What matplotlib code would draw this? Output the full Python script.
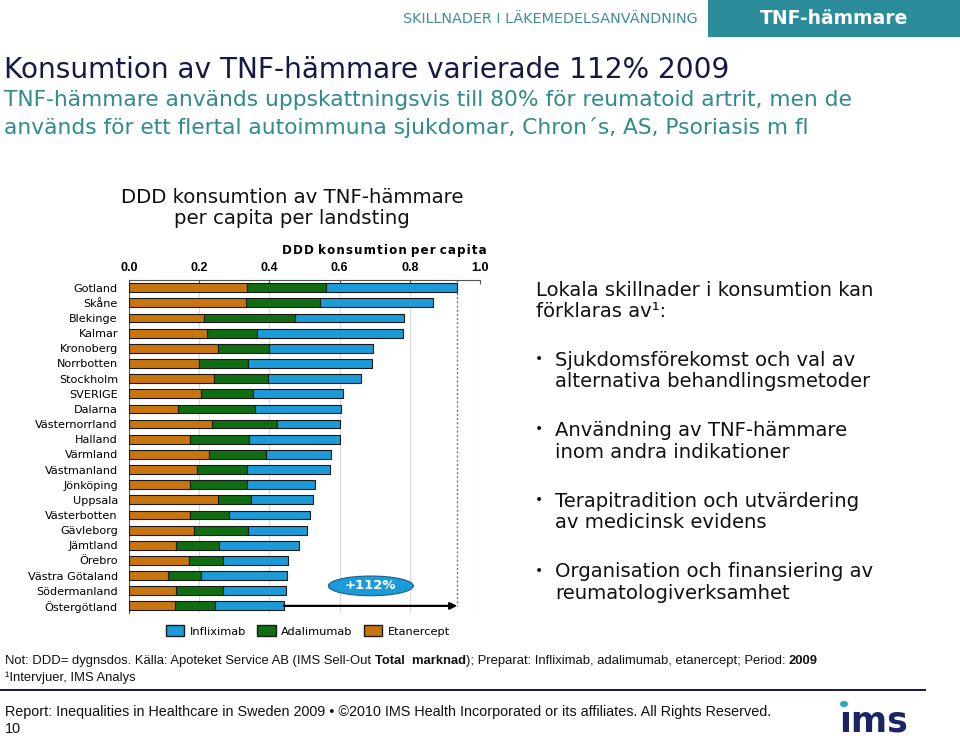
"""
TNF-hämmare: DDD per capita per landsting, stacked horizontal bars.
"""

import matplotlib
matplotlib.use('Agg')
import matplotlib.pyplot as plt
import matplotlib.patches as mpatches
from matplotlib.patches import Ellipse, Rectangle
from matplotlib.lines import Line2D
import numpy as np

plt.rcParams['font.family'] = ['DejaVu Sans']

# data
regions = ['Gotland', 'Skåne', 'Blekinge', 'Kalmar', 'Kronoberg', 'Norrbotten',
           'Stockholm', 'SVERIGE', 'Dalarna', 'Västernorrland', 'Halland',
           'Värmland', 'Västmanland', 'Jönköping', 'Uppsala', 'Västerbotten',
           'Gävleborg', 'Jämtland', 'Örebro', 'Västra Götaland',
           'Södermanland', 'Östergötland']
etanercept = [0.337, 0.333, 0.214, 0.223, 0.253, 0.200, 0.242, 0.206, 0.140,
              0.236, 0.173, 0.227, 0.194, 0.173, 0.253, 0.173, 0.184, 0.133,
              0.170, 0.112, 0.133, 0.130]
adalimumab = [0.224, 0.211, 0.260, 0.143, 0.145, 0.140, 0.153, 0.146, 0.219,
              0.187, 0.170, 0.162, 0.141, 0.162, 0.096, 0.111, 0.156, 0.124,
              0.099, 0.094, 0.136, 0.114]
infliximab = [0.374, 0.322, 0.310, 0.415, 0.297, 0.353, 0.266, 0.257, 0.246,
              0.177, 0.257, 0.187, 0.238, 0.195, 0.176, 0.232, 0.168, 0.227,
              0.185, 0.245, 0.179, 0.197]
xticks = [0.0, 0.2, 0.4, 0.6, 0.8, 1.0]
growth_label = '+112%'

colors = {
    'infl': '#1b9bd7',
    'adal': '#106d12',
    'etan': '#c9750f',
    'navy': '#141a45',
    'teal': '#2c8c99',
    'subtitle': '#2f8b8e',
    'grid': '#d9d9d9',
}

W, H = 960, 739
fig = plt.figure(figsize=(9.6, 7.39), dpi=100, facecolor='white')


def fx(px):
    return px / W


def fy(py):
    return 1 - py / H


# ---- header ----
fig.patches.append(Rectangle((fx(708), fy(37)), fx(252), 37 / H,
                             transform=fig.transFigure, facecolor=colors['teal'],
                             edgecolor='none'))
fig.text(fx(834), fy(19), 'TNF-hämmare', color='white', fontsize=13.5,
         fontweight='bold', ha='center', va='center')
fig.text(fx(698), fy(19), 'SKILLNADER I LÄKEMEDELSANVÄNDNING', color='#3f8e98',
         fontsize=10.4, ha='right', va='center')

fig.text(fx(4), fy(70), 'Konsumtion av TNF-hämmare varierade 112% 2009',
         fontsize=20.2, color=colors['navy'], va='center')
fig.text(fx(4), fy(100), 'TNF-hämmare används uppskattningsvis till 80% för reumatoid artrit, men de',
         fontsize=15.7, color=colors['subtitle'], va='center')
fig.text(fx(4), fy(127), 'används för ett flertal autoimmuna sjukdomar, Chron´s, AS, Psoriasis m fl',
         fontsize=15.7, color=colors['subtitle'], va='center')

# ---- chart ----
fig.text(fx(292), fy(208), 'DDD konsumtion av TNF-hämmare\nper capita per landsting',
         fontsize=14.2, ha='center', va='center', linespacing=1.1, color='#111111')

ax = fig.add_axes([fx(129), fy(613), fx(351), (613 - 280) / H])
y = np.arange(len(regions))
bar_h = 0.58
ax.barh(y, etanercept, height=bar_h, color=colors['etan'], edgecolor='#1a1a1a',
        linewidth=0.8, zorder=3, label='Etanercept')
left2 = np.array(etanercept)
ax.barh(y, adalimumab, left=left2, height=bar_h, color=colors['adal'],
        edgecolor='#1a1a1a', linewidth=0.8, zorder=3, label='Adalimumab')
left3 = left2 + np.array(adalimumab)
ax.barh(y, infliximab, left=left3, height=bar_h, color=colors['infl'],
        edgecolor='#1a1a1a', linewidth=0.8, zorder=3, label='Infliximab')
totals = left3 + np.array(infliximab)

ax.set_xlim(0, 1.0)
ax.set_ylim(len(regions) - 0.53, -0.51)
ax.set_yticks(y)
ax.set_yticklabels(regions, fontsize=8.1)
ax.tick_params(axis='y', length=0, pad=8)
ax.xaxis.tick_top()
ax.set_xticks(xticks)
ax.set_xticklabels([f'{t:.1f}' for t in xticks], fontsize=9, fontweight='bold',
                   family='Liberation Sans')
ax.tick_params(axis='x', length=3, pad=4, direction='in', color='#555555')
ax.grid(axis='x', color=colors['grid'], linewidth=0.8, zorder=0)
for s in ['right', 'bottom']:
    ax.spines[s].set_visible(False)
ax.spines['top'].set_color('#555555')
ax.spines['left'].set_color('#555555')

ax.text(1.02, 1.09, 'D D D  k o n s u m t i o n  p e r  c a p i t a'.replace('  ', '\u2003').replace(' ', '\u200a').replace('\u2003', ' '),
        transform=ax.transAxes, ha='right', va='center', fontsize=8.6,
        fontweight='bold', family='DejaVu Sans')

# max reference line and growth arrow
max_total = totals.max()
ax.plot([max_total, max_total], [-0.5, y[-1]], color='#777777', linestyle=(0, (1.5, 1.5)),
        linewidth=1, zorder=2)
ax.annotate('', xy=(max_total, y[-1]), xytext=(totals[-1], y[-1]),
            arrowprops=dict(arrowstyle='-|>', lw=1.6, color='black',
                            mutation_scale=10, shrinkA=0, shrinkB=0), zorder=4)
ell = Ellipse((0.689, 19.68), 0.242, 1.3, facecolor=colors['infl'],
              edgecolor='#1a5f85', linewidth=0.8, zorder=4)
ax.add_patch(ell)
ax.text(0.689, 19.68, growth_label, ha='center', va='center', color='white',
        fontsize=9.5, fontweight='bold', zorder=5)

handles = [mpatches.Patch(facecolor=colors['infl'], edgecolor='#1a1a1a', label='Infliximab'),
           mpatches.Patch(facecolor=colors['adal'], edgecolor='#1a1a1a', label='Adalimumab'),
           mpatches.Patch(facecolor=colors['etan'], edgecolor='#1a1a1a', label='Etanercept')]
fig.legend(handles=handles, loc='center', bbox_to_anchor=(fx(308), fy(631)),
           ncol=3, frameon=False, fontsize=8.2, handlelength=1.6,
           handleheight=1.1, handletextpad=0.5, columnspacing=1.0)

# ---- right-hand text ----
txt_size = 14.1
fig.text(fx(536), fy(301), 'Lokala skillnader i konsumtion kan\nförklaras av¹:',
         fontsize=txt_size, va='center', linespacing=1.15, color='#111111')
bullets = ['Sjukdomsförekomst och val av\nalternativa behandlingsmetoder',
           'Användning av TNF-hämmare\ninom andra indikationer',
           'Terapitradition och utvärdering\nav medicinsk evidens',
           'Organisation och finansiering av\nreumatologiverksamhet']
for i, b in enumerate(bullets):
    yc = 371 + i * 70.5
    fig.text(fx(535), fy(yc - 12), '•', fontsize=10, va='center', color='#111111')
    fig.text(fx(555), fy(yc), b, fontsize=txt_size, va='center', linespacing=1.15,
             color='#111111')

# ---- footer ----
foot = dict(fontsize=9.4, family='Liberation Sans', color='#111111', va='center')
t1 = fig.text(fx(5), fy(661), 'Not: DDD= dygnsdos. Källa: Apoteket Service AB (IMS Sell-Out ', **foot)
t2 = fig.text(0, 0, 'Total  marknad', fontweight='bold', **foot)
t3 = fig.text(0, 0, '); Preparat: Infliximab, adalimumab, etanercept; Period: ', **foot)
t4 = fig.text(0, 0, '2009', fontweight='bold', **foot)
fig.canvas.draw()
r = fig.canvas.get_renderer()
prev = t1
for t in [t2, t3, t4]:
    bb = prev.get_window_extent(r)
    t.set_position((bb.x1 / fig.bbox.width, fy(661)))
    prev = t
fig.text(fx(5), fy(678), '¹Intervjuer, IMS Analys', **foot)

fig.add_artist(Line2D([0, fx(925)], [fy(690), fy(690)], color=colors['navy'],
                      linewidth=1.4, transform=fig.transFigure))

fig.text(fx(5), fy(712), 'Report: Inequalities in Healthcare in Sweden 2009 • ©2010 IMS Health '
         'Incorporated or its affiliates. All Rights Reserved.', fontsize=10.4,
         family='Liberation Sans', color='#111111', va='center')
fig.text(fx(5), fy(729), '10', fontsize=10.4, family='Liberation Sans',
         color='#111111', va='center')

# ims logo
fig.text(fx(874), fy(722), 'ıms', fontsize=25, fontweight='bold', color='#1c2563',
         ha='center', va='center')
fig.patches.append(mpatches.Circle((fx(844), fy(704)), 4 / W, transform=fig.transFigure,
                                   facecolor='#2aa8c4', edgecolor='none'))

fig.savefig('out.png', dpi=100, facecolor='white')
